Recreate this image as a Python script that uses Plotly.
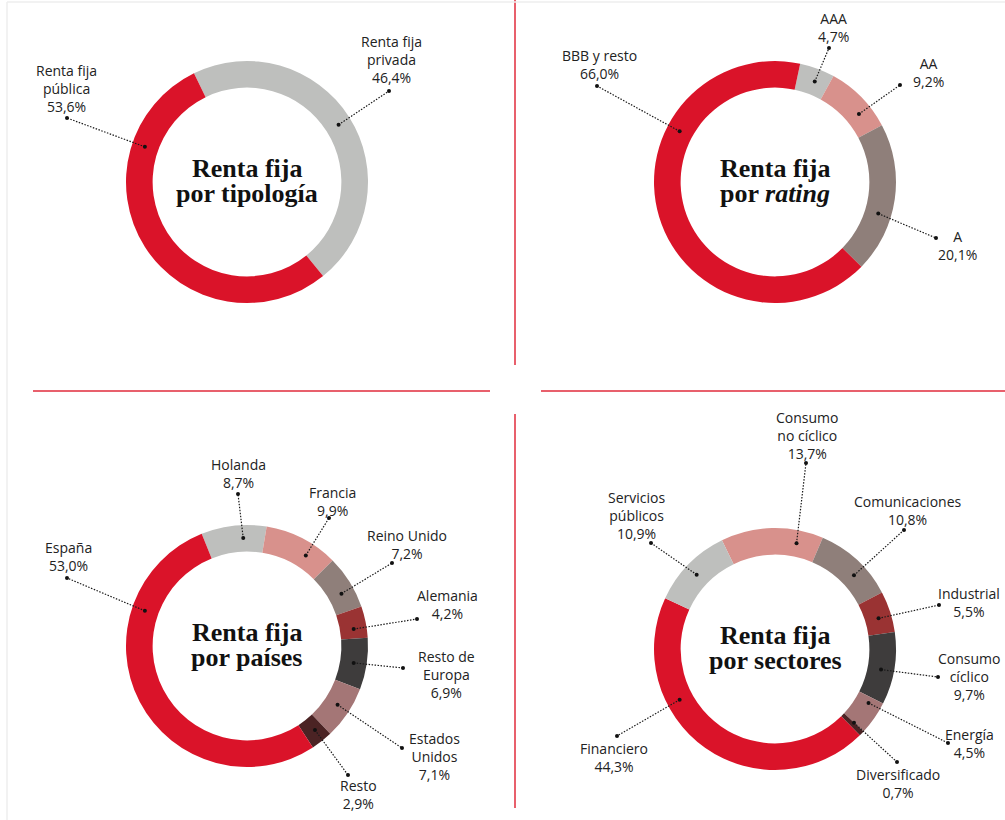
import math
import plotly.graph_objects as go

# --- DATOS ---
tipologia_nombres = ["Renta fija\nprivada", "Renta fija\npública"]
tipologia_valores = [46.4, 53.6]

rating_nombres = ["AAA", "AA", "A", "BBB y resto"]
rating_valores = [4.7, 9.2, 20.1, 66.0]

paises_nombres = ["Holanda", "Francia", "Reino Unido", "Alemania", "Resto de\nEuropa",
                  "Estados\nUnidos", "Resto", "España"]
paises_valores = [8.7, 9.9, 7.2, 4.2, 6.9, 7.1, 2.9, 53.0]

sectores_nombres = ["Consumo\nno cíclico", "Comunicaciones", "Industrial", "Consumo\ncíclico",
                    "Energía", "Diversificado", "Financiero", "Servicios\npúblicos"]
sectores_valores = [13.7, 10.8, 5.5, 9.7, 4.5, 0.7, 44.3, 10.9]

# --- COLORES ---
ROJO = "#DA1329"
GRIS = "#BEBFBD"
ROSA = "#D8918C"
TAUPE = "#8F7F7A"
GRANATE = "#9A3333"
OSCURO = "#3E3C3C"
MALVA = "#A47676"
MARRON = "#4B2324"
LINEA = "#E8606C"

W, H = 1005, 820
R = 121
R_MEDIO = 108

# --- DISPOSICIÓN DE CADA GRÁFICO ---
# centro, rotación, colores, títulos,
# ángulo del punto en el anillo, punto de la etiqueta y centro del texto (relativos al centro)
graficos = [
    dict(nombres=tipologia_nombres, valores=tipologia_valores, centro=(247, 182), rot=-26,
         colores=[GRIS, ROJO], titulo=("Renta fija", "por tipología"),
         angulos=[58, 289],
         puntos=[(142, -91), (-180, -64)],
         textos=[(144, -122), (-181, -93)]),
    dict(nombres=rating_nombres, valores=rating_valores, centro=(775, 182), rot=12,
         colores=[GRIS, ROSA, TAUPE, ROJO], titulo=("Renta fija", "por <i>rating</i>"),
         angulos=[21.6, 51, 107, 298],
         puntos=[(54, -134), (125, -97), (161, 56), (-178, -96)],
         textos=[(58, -155), (153, -109), (182, 63), (-176, -117)]),
    dict(nombres=paises_nombres, valores=paises_valores, centro=(247, 646), rot=-22,
         colores=[GRIS, ROSA, TAUPE, GRANATE, OSCURO, MALVA, MARRON, ROJO],
         titulo=("Renta fija", "por países"),
         angulos=[358, 33, 61, 81, 99, 123, 141, 289],
         puntos=[(-9, -152), (82, -128), (145, -83), (170, -27), (156, 22), (155, 102),
                 (101, 129), (-180, -68)],
         textos=[(-9, -172), (85, -145), (160, -102), (200, -42), (199, 28), (187, 110),
                 (111, 148), (-179, -90)]),
    dict(nombres=sectores_nombres, valores=sectores_valores, centro=(775, 649), rot=-26,
         colores=[ROSA, TAUPE, GRANATE, OSCURO, MALVA, MARRON, ROJO, GRIS],
         titulo=("Renta fija", "por sectores"),
         angulos=[11.5, 47, 73.5, 101, 120, 133, 242, 313.5],
         puntos=[(31, -186), (129, -119), (164, -44), (163, 28), (173, 94), (122, 113),
                 (-158, 87), (-124, -106)],
         textos=[(32, -214), (133, -139), (194, -47), (194, 27), (194, 94), (123, 134),
                 (-161, 108), (-139, -134)]),
]


def px_x(x):
    return x / W


def px_y(y):
    return 1 - y / H


def pct(v):
    return f"{v:.1f}".replace(".", ",") + "%"


fig = go.Figure()
shapes = []
annotations = []

for g in graficos:
    cx, cy = g["centro"]
    fig.add_trace(go.Pie(
        labels=[n.replace("\n", " ") for n in g["nombres"]],
        values=g["valores"],
        marker=dict(colors=g["colores"], line=dict(width=0)),
        hole=0.78, sort=False, direction="clockwise", rotation=g["rot"],
        textinfo="none", hoverinfo="label+percent", showlegend=False,
        domain=dict(x=[px_x(cx - R), px_x(cx + R)], y=[px_y(cy + R), px_y(cy - R)]),
    ))

    # título central en dos líneas
    for texto, dy in zip(g["titulo"], [-13.5, 11.5]):
        annotations.append(dict(
            x=px_x(cx), y=px_y(cy + dy), xref="paper", yref="paper",
            text=f"<b>{texto}</b>", showarrow=False, xanchor="center", yanchor="middle",
            font=dict(family="Liberation Serif", size=26, color="#111111"),
        ))

    # etiquetas con línea de puntos
    for nombre, valor, ang, punto, txt in zip(g["nombres"], g["valores"], g["angulos"],
                                             g["puntos"], g["textos"]):
        a = math.radians(ang)
        x1, y1 = cx + R_MEDIO * math.sin(a), cy - R_MEDIO * math.cos(a)
        x2, y2 = cx + punto[0], cy + punto[1]
        shapes.append(dict(type="line", xref="paper", yref="paper",
                           x0=px_x(x1), y0=px_y(y1), x1=px_x(x2), y1=px_y(y2),
                           line=dict(color="#1a1a1a", width=1.2, dash="1.5px,1.5px"),
                           layer="above"))
        for (px, py) in [(x1, y1), (x2, y2)]:
            shapes.append(dict(type="circle", xref="paper", yref="paper",
                               x0=px_x(px - 2), x1=px_x(px + 2), y0=px_y(py + 2), y1=px_y(py - 2),
                               fillcolor="#111111", line=dict(width=0), layer="above"))
        annotations.append(dict(
            x=px_x(cx + txt[0]), y=px_y(cy + txt[1]), xref="paper", yref="paper",
            text=nombre.replace("\n", "<br>") + "<br>" + pct(valor),
            showarrow=False, xanchor="center", yanchor="middle", align="center",
            font=dict(family="Open Sans", size=14, color="#222222"),
        ))

# --- SEPARADORES ---
for x0, y0, x1, y1 in [(515, 0, 515, 365), (33, 391, 490, 391), (541, 391, 1005, 391),
                       (515, 414, 515, 808)]:
    shapes.append(dict(type="line", xref="paper", yref="paper",
                       x0=px_x(x0), y0=px_y(y0), x1=px_x(x1), y1=px_y(y1),
                       line=dict(color=LINEA, width=2), layer="below"))

# marco gris claro
shapes.append(dict(type="line", xref="paper", yref="paper", x0=px_x(7), y0=px_y(2),
                   x1=1, y1=px_y(2), line=dict(color="#EEEEEE", width=1.5), layer="below"))
shapes.append(dict(type="line", xref="paper", yref="paper", x0=px_x(7), y0=px_y(2),
                   x1=px_x(7), y1=0, line=dict(color="#EEEEEE", width=1.5), layer="below"))

fig.update_layout(
    width=W, height=H,
    margin=dict(l=0, r=0, t=0, b=0),
    paper_bgcolor="white", plot_bgcolor="white",
    shapes=shapes, annotations=annotations,
    showlegend=False,
)

# sin margen en el body para que la figura ocupe toda la ventana
fig.write_html("out.html", config={"displayModeBar": False},
               post_script="document.body.style.margin='0';document.body.style.overflow='hidden';")
